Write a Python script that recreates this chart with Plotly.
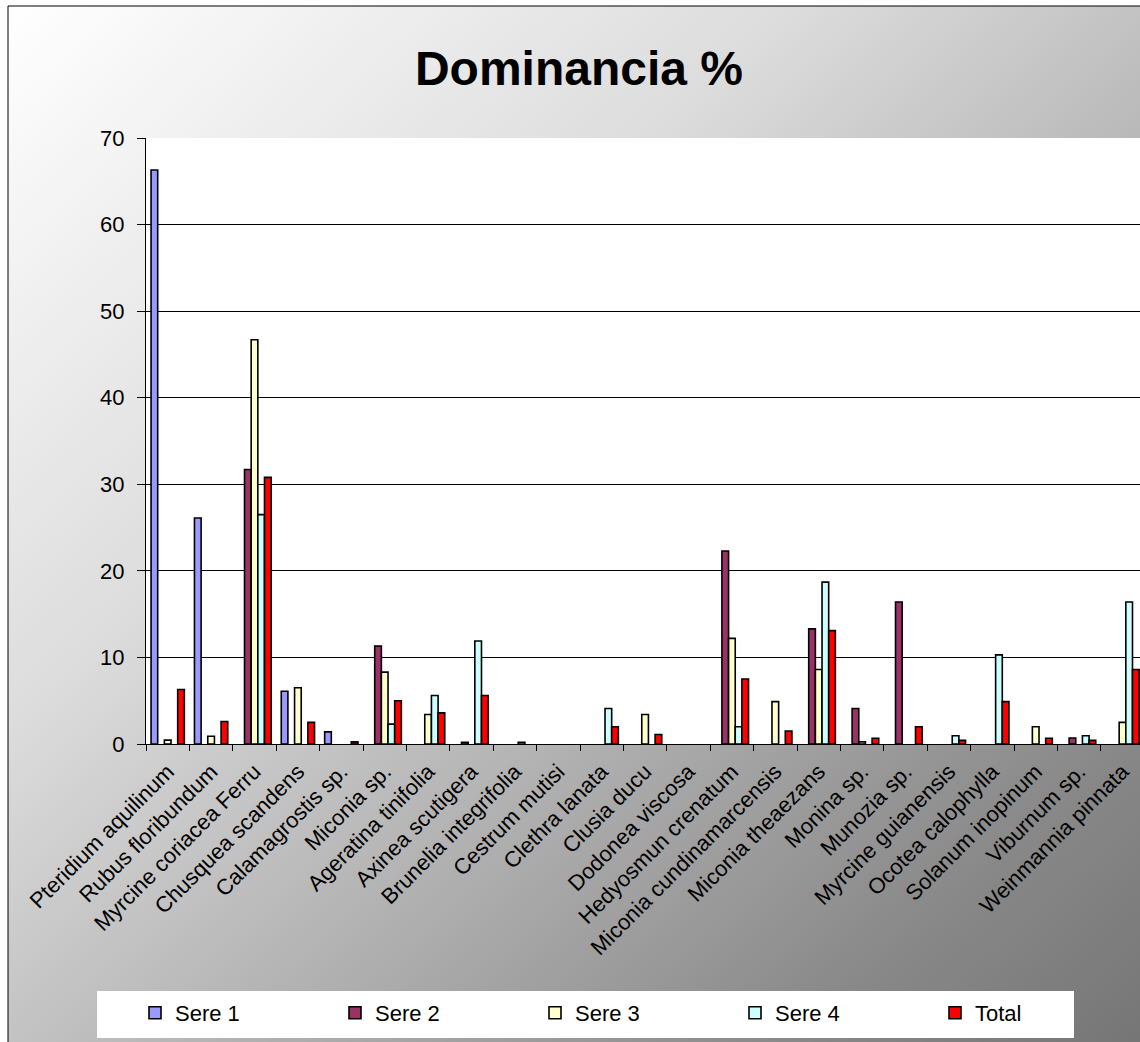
import base64
import plotly.graph_objects as go

# Species (x categories) and dominance percentages per sere
species = [
    "Pteridium aquilinum", "Rubus floribundum", "Myrcine coriacea Ferru",
    "Chusquea scandens", "Calamagrostis sp.", "Miconia sp.",
    "Ageratina tinifolia", "Axinea scutigera", "Brunelia integrifolia",
    "Cestrum mutisi", "Clethra lanata", "Clusia ducu", "Dodonea viscosa",
    "Hedyosmun crenatum", "Miconia cundinamarcensis", "Miconia theaezans",
    "Monina sp.", "Munozia sp.", "Myrcine guianensis", "Ocotea calophylla",
    "Solanum inopinum", "Viburnum sp.", "Weinmannia pinnata",
]
sere1 = [66.3, 26.1, 0, 6.1, 1.4, 0, 0, 0, 0, 0, 0, 0, 0,
         0, 0, 0, 0, 0, 0, 0, 0, 0, 0]
sere2 = [0, 0, 31.7, 0, 0, 11.3, 0, 0.2, 0, 0, 0, 0, 0,
         22.3, 0, 13.3, 4.1, 16.4, 0, 0, 0, 0.7, 0]
sere3 = [0.45, 0.9, 46.7, 6.5, 0, 8.3, 3.4, 0, 0, 0, 0, 3.4, 0,
         12.2, 4.9, 8.6, 0.25, 0, 0, 0, 2.0, 0, 2.5]
sere4 = [0, 0, 26.5, 0, 0, 2.3, 5.6, 11.9, 0.2, 0, 4.1, 0, 0,
         2.0, 0, 18.7, 0, 0, 0.95, 10.3, 0, 0.95, 16.4]
total = [6.3, 2.6, 30.8, 2.5, 0.25, 5.0, 3.6, 5.6, 0, 0, 2.0, 1.1, 0,
         7.5, 1.5, 13.1, 0.66, 2.0, 0.42, 4.9, 0.66, 0.42, 8.6]

series_names = ["Sere 1", "Sere 2", "Sere 3", "Sere 4", "Total"]
series_values = [sere1, sere2, sere3, sere4, total]
series_colors = ["#9999ff", "#993366", "#ffffcc", "#ccffff", "#ff0000"]

FONT = "Arial, 'Liberation Sans', sans-serif"
W, H = 1140, 1042
L, T, B = 146, 138, 298          # plot area margins in px
PW, PH = W - L, H - T - B        # plot area size


def px_x(p):
    """page x pixel -> paper x"""
    return (p - L) / PW


def px_y(p):
    """page y pixel -> paper y"""
    return (H - B - p) / PH


fig = go.Figure()
for name, vals, col in zip(series_names, series_values, series_colors):
    # empty cells are left blank so no outline is stroked on the baseline
    fig.add_trace(go.Bar(
        x=species, y=[v if v else None for v in vals], name=name,
        marker=dict(color=col, line=dict(color="#000000", width=1.6)),
    ))

# diagonal grey shading of the chart area
grad_svg = (
    '<svg xmlns="http://www.w3.org/2000/svg" width="1132" height="1036" '
    'viewBox="0 0 1132 1036" preserveAspectRatio="none">'
    '<defs><linearGradient id="g" x1="0" y1="0" x2="1" y2="1">'
    '<stop offset="0" stop-color="#ffffff"/>'
    '<stop offset="0.35" stop-color="#dcdcdc"/>'
    '<stop offset="0.6" stop-color="#b2b2b2"/>'
    '<stop offset="0.85" stop-color="#888888"/>'
    '<stop offset="1" stop-color="#767676"/>'
    '</linearGradient></defs>'
    '<rect width="1132" height="1036" fill="url(#g)"/></svg>'
)
grad_uri = "data:image/svg+xml;base64," + base64.b64encode(grad_svg.encode()).decode()

fig.add_layout_image(dict(
    source=grad_uri, xref="paper", yref="paper",
    x=px_x(8), y=px_y(6), sizex=px_x(W) - px_x(8), sizey=px_y(6) - px_y(H),
    xanchor="left", yanchor="top", sizing="stretch", layer="below",
))

shapes = [
    # chart frame
    dict(type="rect", xref="paper", yref="paper", layer="below",
         x0=px_x(8), x1=px_x(W + 10), y0=px_y(H + 10), y1=px_y(6),
         line=dict(color="#000000", width=1), fillcolor="rgba(0,0,0,0)"),
    # white plot area
    dict(type="rect", xref="paper", yref="paper", layer="below",
         x0=0, x1=1, y0=0, y1=1, line=dict(width=0), fillcolor="#ffffff"),
    # white legend box
    dict(type="rect", xref="paper", yref="paper", layer="below",
         x0=px_x(97), x1=px_x(1074), y0=px_y(1038), y1=px_y(991),
         line=dict(width=0), fillcolor="#ffffff"),
]

fig.update_layout(
    width=W, height=H,
    margin=dict(l=L, r=0, t=T, b=B, autoexpand=False),
    paper_bgcolor="#ffffff",
    plot_bgcolor="rgba(0,0,0,0)",
    barmode="group", bargap=0.233, bargroupgap=0,
    font=dict(family=FONT, size=22, color="#000000"),
    title=dict(text="<b>Dominancia %</b>", x=579 / W, xanchor="center",
               xref="container", y=1 - 68 / H, yanchor="middle",
               font=dict(family=FONT, size=48, color="#000000")),
    shapes=shapes,
    showlegend=True,
    legend=dict(orientation="h", x=px_x(135), xanchor="left",
                y=px_y(1013), yanchor="middle",
                bgcolor="rgba(0,0,0,0)", borderwidth=0,
                entrywidth=155, entrywidthmode="pixels",
                font=dict(family=FONT, size=22, color="#000000"),
                traceorder="normal"),
    xaxis=dict(
        type="category", range=[-0.5, -0.5 + PW / 43.4],
        showline=True, linecolor="#000000", linewidth=1,
        ticks="outside", tickson="boundaries", ticklen=6,
        tickcolor="#000000", tickangle=-45, showgrid=False,
        ticklabelstandoff=5,
        tickfont=dict(family=FONT, size=22, color="#000000"),
        automargin=False,
    ),
    yaxis=dict(
        range=[0, 70], dtick=10, showline=True, linecolor="#000000",
        linewidth=1, ticks="outside", ticklen=8, tickcolor="#000000",
        showgrid=True, gridcolor="#000000", gridwidth=1, zeroline=False,
        ticklabelstandoff=8,
        tickfont=dict(family=FONT, size=22, color="#000000"),
        automargin=False,
    ),
)

fig.write_html("out.html")
